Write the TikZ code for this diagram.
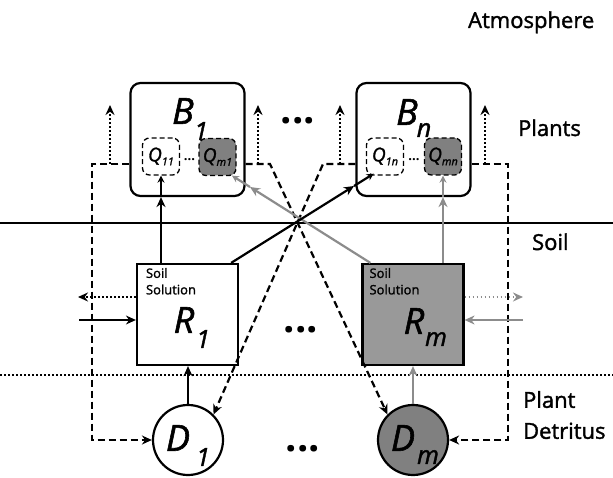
\documentclass[tikz,border=0pt]{standalone}
\usepackage{fontspec}
\setmainfont{Open Sans}[UprightFeatures={FakeBold=1.6}, ItalicFeatures={FakeBold=1.6}]
\usepackage{tikz}
\usetikzlibrary{calc,arrows.meta}
\definecolor{rootgray}{gray}{0.6}
\definecolor{poolgray}{gray}{0.5}
\definecolor{linegray}{gray}{0.55}
\newcommand{\poolname}[2]{\textit{#1\raisebox{-4pt}{\fontsize{11}{11}\selectfont #2}}}

\begin{document}
\begin{tikzpicture}[x=1pt, y=-1pt, line width=2.2pt,
    plantbox/.style={draw, rounded corners=10pt, minimum width=114pt, minimum height=113pt},
    poolbox/.style={draw, line width=1.3pt, dash pattern=on 5pt off 3pt, rounded corners=7pt, minimum size=37pt, inner sep=0, font=\fontsize{19}{19}\selectfont},
    soilbox/.style={draw, minimum size=101pt},
    detbox/.style={draw, circle, minimum size=70pt},
    tip/.style={-{Stealth[length=10pt,width=9pt]}},
    smalltip/.style={-{Stealth[length=7pt,width=7pt]}},
    litter/.style={dash pattern=on 7pt off 4pt},
    loss/.style={line width=1.6pt, dash pattern=on 1.6pt off 2.4pt},
    lettr/.style={font=\itshape\fontsize{36}{36}\selectfont, inner sep=0},
    subtr/.style={font=\itshape\fontsize{25}{25}\selectfont, inner sep=0},
    layer/.style={font=\fontsize{22}{31}\selectfont, inner sep=0, align=left},
    more/.style={font=\bfseries\fontsize{40}{40}\selectfont, inner sep=0}]
    \useasboundingbox (0,0) rectangle (613,478);
    \node[plantbox] (B1) at (187.5,139.5) {};
    \node[plantbox] (Bn) at (413.5,139.5) {};
    \node[poolbox] (Q11) at (161,156.5) {\poolname{Q}{11}};
    \node[poolbox, fill=poolgray] (Qm1) at (217.5,157) {\poolname{Q}{m1}};
    \node[poolbox] (Q1n) at (385,156.5) {\poolname{Q}{1n}};
    \node[poolbox, fill=poolgray] (Qmn) at (443,156.5) {\poolname{Q}{mn}};
    \node[font=\bfseries\fontsize{13}{13}\selectfont, inner sep=0] (q1dots) at (189.5,160) {...};
    \node[font=\bfseries\fontsize{13}{13}\selectfont, inner sep=0] (qndots) at (414,160) {...};
    \node[soilbox] (R1) at (187.5,314.5) {};
    \node[soilbox, fill=rootgray] (Rm) at (413,314.5) {};
    \node[detbox] (D1) at (188,440) {};
    \node[detbox, fill=poolgray] (Dm) at (413,440) {};
    \node[lettr] (B1l) at (183,111) {B};
    \node[subtr] (B1s) at (201,131) {1};
    \node[lettr] (Bnl) at (407,112) {B};
    \node[subtr] (Bns) at (424,130) {n};
    \node[lettr] (R1l) at (184,320) {R};
    \node[subtr] (R1s) at (203,339) {1};
    \node[lettr] (Rml) at (414,321) {R};
    \node[subtr] (Rms) at (436,339) {m};
    \node[lettr] (D1l) at (178,438) {D};
    \node[subtr] (D1s) at (203,457) {1};
    \node[lettr] (Dml) at (403,438) {D};
    \node[subtr] (Dms) at (428,457) {m};
    \node[anchor=north west, align=left, font=\fontsize{13}{16.5}\selectfont, inner sep=0] (R1t) at ($(R1.north west)+(9,4)$) {Soil\\Solution};
    \node[anchor=north west, align=left, font=\fontsize{13}{16.5}\selectfont, inner sep=0] (Rmt) at ($(Rm.north west)+(7,4)$) {Soil\\Solution};
    \node[layer, anchor=base west] (atm) at (467,28) {Atmosphere};
    \node[layer, anchor=base west] (plt) at (517,136) {Plants};
    \node[layer, anchor=base west] (sol) at (531,250) {Soil};
    \node[layer, anchor=north west] (det) at (522,390) {Plant\\Detritus};
    \node[more] (Bdots) at (298,121) {...};
    \node[more] (Rdots) at (301,330) {...};
    \node[more] (Ddots) at (303,449) {...};
    \coordinate (sw) at (0,223);
    \coordinate (se) at (613,223);
    \draw (sw) -- (se);
    \coordinate (dw) at (0,375);
    \coordinate (de) at (613,375);
    \draw[loss] (dw) -- (de);
    \coordinate (c1) at (92,164);
    \coordinate (c2) at (92,440);
    \coordinate (c3) at (270,164);
    \coordinate (c4) at (323,164);
    \coordinate (c5) at (508,164);
    \coordinate (c6) at (508,440);
    \draw[litter, tip] ($(B1.west)+(0,24.5)$) -- (c1) -- (c2) -- (D1.west);
    \draw[litter, tip] ($(B1.east)+(0,24.5)$) -- (c3) -- (Dm.north west);
    \draw[litter, tip] ($(Bn.west)+(0,24.5)$) -- (c4) -- (D1.north east);
    \draw[litter, tip] ($(Bn.east)+(0,24.5)$) -- (c5) -- (c6) -- (Dm.east);
    \coordinate (f1) at (110,164);
    \coordinate (u1) at (110,105);
    \coordinate (f2) at (258,164);
    \coordinate (u2) at (258,105);
    \coordinate (f3) at (340,164);
    \coordinate (u3) at (340,105);
    \coordinate (f4) at (485,164);
    \coordinate (u4) at (485,105);
    \draw[loss, tip] (f1) -- (u1);
    \draw[loss, tip] (f2) -- (u2);
    \draw[loss, tip] (f3) -- (u3);
    \draw[loss, tip] (f4) -- (u4);
    \coordinate (rmb) at ($(Rm.north west)+(9,0)$);
    \coordinate (k2) at (250,187);
    \draw[linegray, tip] (rmb) -- (k2);
    \draw[linegray, smalltip] (k2) -- ($(rmb)!1.15!(k2)$);
    \draw[linegray, tip] (Qmn.south |- Rm.north) -- (Qmn.south |- Bn.south);
    \draw[linegray, smalltip] (Qmn.south |- Bn.south) -- (Qmn.south);
    \draw[linegray, tip] (Dm.north) -- (Rm.south);
    \coordinate (r1b) at ($(R1.north east)+(-8,0)$);
    \coordinate (k1) at (354,186);
    \draw[tip] (r1b) -- (k1);
    \draw[smalltip] (k1) -- ($(r1b)!1.16!(k1)$);
    \draw[tip] (Q11.south |- R1.north) -- (Q11.south |- B1.south);
    \draw[smalltip] (Q11.south |- B1.south) -- (Q11.south);
    \draw[tip] (D1.north) -- (D1.north |- R1.south);
    \coordinate (o1) at (78,297);
    \coordinate (i1) at (79,320);
    \draw[loss, tip] (R1.west |- o1) -- (o1);
    \draw[line width=1.6pt, tip] (i1) -- (R1.west |- i1);
    \coordinate (o2) at (523,297);
    \coordinate (i2) at (523,320);
    \draw[loss, linegray, tip] (Rm.east |- o2) -- (o2);
    \draw[line width=1.6pt, linegray, tip] (i2) -- (Rm.east |- i2);
\end{tikzpicture}
\end{document}
